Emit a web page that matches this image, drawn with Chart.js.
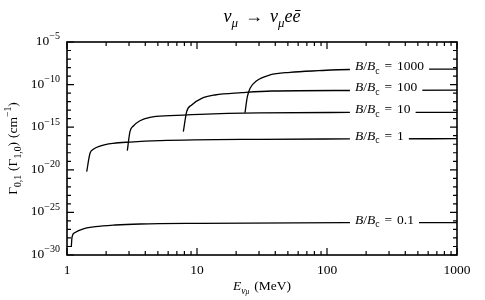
<!DOCTYPE html>
<html>
<head>
<meta charset="utf-8">
<script src="https://cdn.jsdelivr.net/npm/chart.js@4.4.1/dist/chart.umd.min.js"></script>
<style>
  body { margin: 0; background: #fff; }
  canvas { display: block; }
</style>
</head>
<body>
<canvas id="rate" width="485" height="300"></canvas>
<script>
// E_nu (MeV) and Gamma (cm^-1) per field strength B/Bc
const energy1000 = [23.4, 24.4, 25.6, 28.8, 36.4, 51.9, 85.7, 150, 1000]
const gamma1000 = [5.0e-14, 3.8e-12, 3.72e-11, 2.88e-10, 1.35e-9, 2.75e-9, 4.27e-9, 5.89e-9, 6.6e-9]

const energy100 = [7.85, 8.33, 9.1, 10.87, 13.75, 22.1, 37.6, 150, 1000]
const gamma100 = [2.95e-16, 6.6e-14, 4.07e-13, 2.45e-12, 6.03e-12, 1.12e-11, 1.78e-11, 2.04e-11, 2.19e-11]

const energy10 = [2.91, 3.05, 3.24, 3.64, 4.35, 6.2, 10.55, 30.5, 150, 1000]
const gamma10 = [1.74e-18, 2.95e-16, 1.38e-15, 5.75e-15, 1.45e-14, 2.24e-14, 3.24e-14, 4.68e-14, 5.37e-14, 5.62e-14]

const energy1 = [1.418, 1.503, 1.594, 1.794, 2.27, 3.05, 5.19, 30.5, 150, 1000]
const gamma1 = [6.03e-21, 8.7e-19, 2.57e-18, 6.17e-18, 1.29e-17, 1.82e-17, 2.63e-17, 3.8e-17, 4.17e-17, 4.47e-17]

const energy01 = [1.079, 1.093, 1.146, 1.304, 1.651, 2.35, 3.66, 10.5, 150, 1000]
const gamma01 = [8.7e-30, 1.29e-28, 4.17e-28, 1.05e-27, 2.09e-27, 3.31e-27, 4.37e-27, 5.25e-27, 6.17e-27, 6.3e-27]

const fieldRatios = ['1000', '100', '10', '1', '0.1']
const labelEnergy = 164

const xTicks = [1, 10, 100, 1000]
const xTickLabels = ['1', '10', '100', '1000']
const yTicks = [1e-30, 1e-25, 1e-20, 1e-15, 1e-10, 1e-5]
const yTickPowers = ['\u221230', '\u221225', '\u221220', '\u221215', '\u221210', '\u22125']

const SERIF = '"Liberation Serif", "DejaVu Serif", serif'

const curves = [
    [energy1000, gamma1000],
    [energy100, gamma100],
    [energy10, gamma10],
    [energy1, gamma1],
    [energy01, gamma01]
]

// draw a run of text pieces: { t, it, pos: 'sub' | 'sup', size, gap }
function drawRich(ctx, parts, x, y, size, align, measureOnly) {
    const pieces = parts.map(p => {
        const s = p.size || (p.pos ? size * 0.72 : size)
        const font = (p.it ? 'italic ' : '') + s + 'px ' + SERIF
        ctx.font = font
        const w = p.gap !== undefined ? p.gap : ctx.measureText(p.t).width
        const dy = p.pos === 'sub' ? size * 0.28 : p.pos === 'sup' ? -size * 0.42 : 0
        return { t: p.t, font, w, dy }
    })
    const total = pieces.reduce((s, p) => s + p.w, 0)
    if (measureOnly) return total
    let cx = align === 'center' ? x - total / 2 : align === 'right' ? x - total : x
    ctx.textBaseline = 'alphabetic'
    ctx.textAlign = 'left'
    pieces.forEach(p => {
        if (p.t) {
            ctx.font = p.font
            ctx.fillText(p.t, cx, y + p.dy)
        }
        cx += p.w
    })
    return total
}

const framePlugin = {
    id: 'frame',
    afterDatasetsDraw(chart) {
        const { ctx, chartArea: a, scales: { x, y } } = chart
        ctx.save()
        ctx.fillStyle = '#000'

        // curve labels with a white patch behind them
        curves.forEach(([e, g], i) => {
            const px = x.getPixelForValue(labelEnergy)
            const py = y.getPixelForValue(g[g.length - 1])
            const parts = [
                { t: 'B', it: true }, { t: '/' }, { t: 'B', it: true }, { t: 'c', pos: 'sub' },
                { gap: 5 }, { t: '=' }, { gap: 5 }, { t: fieldRatios[i] }
            ]
            const w = drawRich(ctx, parts, px, py, 13.5, 'left', true)
            ctx.fillStyle = '#fff'
            ctx.fillRect(px - 5, py - 13, w + 10, 18)
            ctx.fillStyle = '#000'
            drawRich(ctx, parts, px, py + 1, 13.5, 'left')
        })

        // frame
        ctx.strokeStyle = '#000'
        ctx.lineWidth = 1.6
        ctx.strokeRect(a.left, a.top, a.right - a.left, a.bottom - a.top)

        // inward ticks on all four sides
        ctx.lineWidth = 1.2
        ctx.beginPath()
        for (let d = 1; d < 1000; d *= 10) {
            for (let m = 1; m <= 10; m++) {
                const px = x.getPixelForValue(d * m)
                const len = (m === 1 || m === 10) ? 7 : 4
                ctx.moveTo(px, a.bottom); ctx.lineTo(px, a.bottom - len)
                ctx.moveTo(px, a.top); ctx.lineTo(px, a.top + len)
            }
        }
        for (let k = -30; k <= -5; k++) {
            const py = y.getPixelForValue(Number('1e' + k))
            const len = k % 5 === 0 ? 7 : 4
            ctx.moveTo(a.left, py); ctx.lineTo(a.left + len, py)
            ctx.moveTo(a.right, py); ctx.lineTo(a.right - len, py)
        }
        ctx.stroke()

        // tick labels
        xTicks.forEach((v, i) => {
            drawRich(ctx, [{ t: xTickLabels[i] }], x.getPixelForValue(v), a.bottom + 19, 13.5, 'center')
        })
        yTicks.forEach((v, i) => {
            drawRich(ctx, [{ t: '10' }, { t: yTickPowers[i], size: 10, pos: 'sup' }],
                a.left - 7, y.getPixelForValue(v) + 3, 13.5, 'right')
        })

        // titles
        drawRich(ctx, [
            { t: '\u03bd', it: true }, { t: '\u03bc', it: true, pos: 'sub' }, { gap: 7 }, { t: '\u2192' }, { gap: 7 },
            { t: '\u03bd', it: true }, { t: '\u03bc', it: true, pos: 'sub' }, { t: 'e', it: true }, { t: '\u0113', it: true }
        ], (a.left + a.right) / 2, 22, 18, 'center')

        drawRich(ctx, [
            { t: 'E', it: true }, { t: '\u03bd', it: true, pos: 'sub' }, { t: '\u03bc', it: true, size: 7.5, pos: 'sub' },
            { gap: 5 }, { t: '(MeV)' }
        ], (a.left + a.right) / 2, 290, 13.5, 'center')

        ctx.translate(17, (a.top + a.bottom) / 2)
        ctx.rotate(-Math.PI / 2)
        drawRich(ctx, [
            { t: '\u0393' }, { t: '0,1', pos: 'sub' }, { gap: 4 }, { t: '(\u0393' }, { t: '1,0', pos: 'sub' }, { t: ')' },
            { gap: 4 }, { t: '(cm' }, { t: '\u22121', pos: 'sup' }, { t: ')' }
        ], 0, 0, 13.5, 'center')

        ctx.restore()
    }
}

new Chart(document.getElementById('rate').getContext('2d'), {
    type: 'line',
    data: {
        datasets: curves.map(([e, g], i) => ({
            label: 'B/Bc = ' + fieldRatios[i],
            data: e.map((v, j) => ({ x: v, y: g[j] })),
            borderColor: '#000',
            borderWidth: 1.3,
            pointRadius: 0,
            cubicInterpolationMode: 'monotone',
            fill: false
        }))
    },
    options: {
        responsive: false,
        animation: false,
        devicePixelRatio: 1,
        layout: { padding: { left: 67, right: 28, top: 42, bottom: 45 } },
        plugins: {
            legend: { display: false },
            tooltip: { enabled: false }
        },
        scales: {
            x: { type: 'logarithmic', min: 1, max: 1000, display: false },
            y: { type: 'logarithmic', min: 1e-30, max: 1e-5, display: false }
        }
    },
    plugins: [framePlugin]
})
</script>
</body>
</html>
